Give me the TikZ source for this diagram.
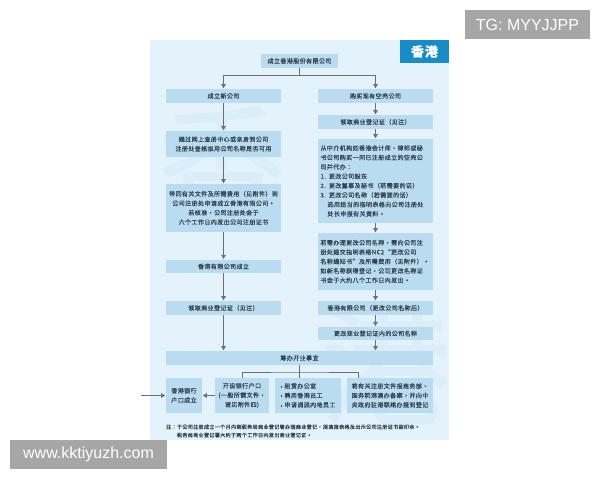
\documentclass[tikz,border=0pt]{standalone}
\usepackage{fontspec}
\usepackage{tikz}
\usetikzlibrary{arrows.meta}

\newfontfamily\cjkfont[LetterSpace=7,FakeBold=0.25]{Noto Sans CJK TC}
\newfontfamily\markfont{Liberation Sans}

\definecolor{panelblue}{HTML}{E4F2FB}
\definecolor{boxblue}{HTML}{B9DCF0}
\definecolor{headblue}{HTML}{178CC8}
\definecolor{shadeblue}{HTML}{DAEDF8}
\definecolor{inkgray}{HTML}{34424F}
\definecolor{linegray}{HTML}{6E6E6E}
\definecolor{markgray}{HTML}{A6A6A6}

\newcommand{\sqmark}{\rule[0.6pt]{1.9pt}{1.9pt}\hspace{2pt}}

\begin{document}
\begin{tikzpicture}[%
					x=1pt, y=-1pt,
					every node/.style={%
						inner sep=0pt,
						text=inkgray,
						font=\cjkfont\fontsize{6}{9.4}\selectfont
					},
					stepbox/.style={%
						fill=boxblue,
						align=center,
						minimum height=14pt
					},
					colbox/.style={minimum width=115pt},
					longbox/.style={%
						text width=110pt,
						inner xsep=2.5pt,
						align=left
					},
					rowbox/.style={minimum height=35pt},
					flow/.style={%
						draw=linegray,
						line width=0.6pt,
						-{Triangle[length=4pt,width=4.5pt]},
						shorten >=0.6pt
					},
					link/.style={draw=linegray, line width=0.6pt},
					stamp/.style={%
						fill=markgray,
						text=white,
						font=\markfont\fontsize{16}{16}\selectfont,
						minimum height=29pt
					}
				]

				\useasboundingbox (0, 0) rectangle (600, 480);

				% panel and faint background glyphs
				\fill[panelblue] (150, 40) rectangle (449, 440);
				\node[text=shadeblue, font=\cjkfont\fontsize{130}{130}\selectfont] (bgxiang) at (222, 165) {香};
				\node[text=shadeblue, font=\cjkfont\fontsize{130}{130}\selectfont] (bggang) at (385, 365) {港};

				\node[fill=headblue, text=white, minimum width=49pt, minimum height=23pt,
					font=\cjkfont\bfseries\fontsize{13}{13}\selectfont] (title) at (424.5, 51.5) {香港};

				\node[stepbox, minimum width=77pt] (start) at (299.5, 61) {成立香港股份有限公司};

				% left column
				\node[stepbox, colbox] (newco) at (223.5, 96) {成立新公司};
				\node[stepbox, colbox, minimum height=26pt] (namecheck) at (223.5, 144) {%
					通过网上查册中心或亲身到公司\\
					注册处查核拟用公司名称是否可用
				};
				\node[stepbox, colbox, minimum height=48pt] (apply) at (223.5, 208) {%
					带同有关文件及所需费用（见附件）到\\
					公司注册处申请成立香港有限公司。\\
					若核准，公司注册处会于\\
					六个工作日内发出公司注册证书
				};
				\node[stepbox, colbox, minimum height=13.5pt] (ltdset) at (223.5, 266.5) {香港有限公司成立};
				\node[stepbox, colbox] (brleft) at (223.5, 308) {领取商业登记证（见注）};

				% right column
				\node[stepbox, colbox] (buyshell) at (375.5, 96) {购买现有空壳公司};
				\node[stepbox, colbox] (brright) at (375.5, 122) {领取商业登记证（见注）};
				\node[stepbox, colbox, longbox, minimum height=84pt] (agent) at (375.5, 181) {%
					从中介机构如香港会计师、律师或秘\\
					书公司购买一间已注册成立的空壳公\\
					司并代办：\\
					1. 更改公司股东\\
					2. 更改董事及秘书（若需要的话）\\
					3. 更改公司名称（若需要的话）\\
					\hspace*{7pt}选用适当的指明表格向公司注册处\\
					\hspace*{7pt}处长申报有关资料。
				};
				\node[stepbox, colbox, longbox, minimum height=57pt] (rename) at (375.5, 261.5) {%
					若需办理更改公司名称，需向公司注\\
					册处递交指明表格NC2“更改公司\\
					名称通知书”及所需费用（见附件）。\\
					如新名称获得登记，公司更改名称证\\
					书会于大约八个工作日内发出。
				};
				\node[stepbox, colbox] (renamed) at (375.5, 308) {香港有限公司（更改公司名称后）};
				\node[stepbox, colbox, minimum height=13.5pt] (brupdate) at (375.5, 333.5) {更改商业登记证内的公司名称};

				\node[stepbox, minimum width=267pt] (prepare) at (299.5, 358) {筹办开业事宜};

				% bottom row
				\node[stepbox, rowbox, minimum width=36pt] (bankok) at (184, 395.5) {香港银行\\户口成立};
				\node[stepbox, rowbox, minimum width=54pt] (openacct) at (242, 395.5) {%
					开设银行户口\\
					(一般所需文件，\\
					请见附件四)
				};
				\node[stepbox, rowbox, minimum width=66pt, align=left] (office) at (308, 395.5) {%
					\sqmark 租赁办公室\\
					\sqmark 聘用香港员工\\
					\sqmark 申请调派内地员工
				};
				\node[stepbox, rowbox, minimum width=86pt] (register) at (390, 395.5) {%
					将有关注册文件报商务部、\\
					国务院港澳办备案，并向中\\
					央政府驻港联络办报到登记
				};

				\node[anchor=west, align=left, font=\cjkfont\fontsize{5.05}{8.2}\selectfont] (note) at (166, 431) {%
					注：于公司注册成立一个月内到税务局商业登记署办理商业登记，须填报表格及出示公司注册证书副印本。\\
					\hspace*{10.8pt}税务局商业登记署大约于两个工作日内发出商业登记证。
				};

				% connectors
				\coordinate (split) at (299.5, 75);
				\draw[flow] (start.south) -- (split) -| (newco.north);
				\draw[flow] (start.south) -- (split) -| (buyshell.north);

				\draw[flow] (newco.south) -- (namecheck.north);
				\draw[flow] (namecheck.south) -- (apply.north);
				\draw[flow] (apply.south) -- (ltdset.north);
				\draw[flow] (ltdset.south) -- (brleft.north);
				\draw[flow] (brleft.south) -- (brleft.south |- prepare.north);

				\draw[flow] (buyshell.south) -- (brright.north);
				\draw[flow] (brright.south) -- (agent.north);
				\draw[flow] (agent.south) -- (rename.north);
				\draw[flow] (rename.south) -- (renamed.north);
				\draw[flow] (renamed.south) -- (brupdate.north);
				\draw[flow] (brupdate.south) -- (brupdate.south |- prepare.north);

				\coordinate (fork) at (299.5, 372);
				\draw[link] (prepare.south) -- (prepare.south |- office.north);
				\draw[link] (openacct.north) |- (fork) -| ([xshift=-32pt]register.north);
				\draw[flow] (openacct.west) -- (bankok.east);
				\coordinate (feed) at (141, 395.5);
				\draw[flow] (feed) -- (bankok.west);

				% overlay stamps
				\node[stamp, minimum width=125pt] (tgmark) at (527.5, 24.5) {TG: MYYJJPP};
				\node[stamp, minimum width=157pt] (webmark) at (88.5, 454.5) {www.kktiyuzh.com};
			\end{tikzpicture}
\end{document}
